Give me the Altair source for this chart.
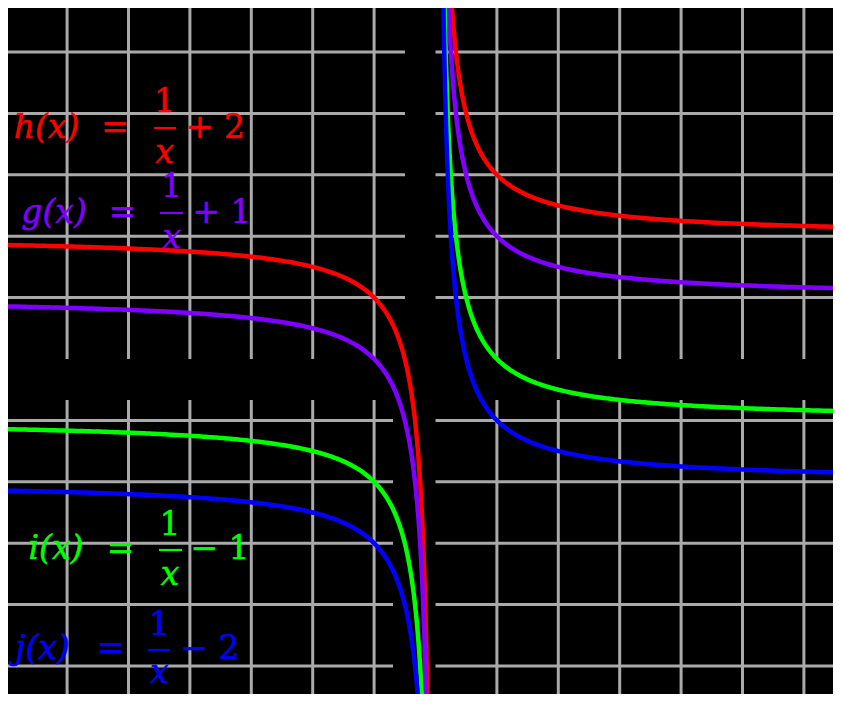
import altair as alt
import numpy as np
import pandas as pd

# ---- functions shown: f(x) = 1/x + c ----
fn_names = ["h", "g", "i", "j"]
offsets = [2, 1, -1, -2]
colors = ["#ff0000", "#8000ff", "#00ff00", "#0000ff"]

# ---- grid values (unit grid, axes at 0 hidden in black) ----
grid_x = [-7, -6, -5, -4, -3, -2, -1, 1, 2, 3, 4, 5, 6]
grid_y = [-5, -4, -3, -2, -1, 1, 2, 3, 4, 5]

# ---- label texts ----
lhs_text = ["h(x)", "g(x)", "i(x)", "j(x)"]
rhs_text = ["+ 2", "+ 1", "\u2212 1", "\u2212 2"]

# ---------------- layout (not data) ----------------
W, H = 825, 686
X_DOMAIN = [-6.9625, 6.474]
Y_DOMAIN = [-5.456, 5.7166]
GAP_BELOW_XAXIS = -0.668          # vertical grid lines resume below this
GAP_LEFT_UPPER = -0.497           # horizontal grid lines (y>0) stop here left of y-axis
GAP_LEFT_LOWER = -0.692           # horizontal grid lines (y<0) stop here
FONT = "DejaVu Serif"
FS = 33

# label anchor layout per function (data units)
label_layout = {
    "h": dict(lhs=-6.336, eq=-5.220, frac=-4.414, rhs=-3.583, base=3.599, num=4.023, den=3.192, bar=3.762, b1=-4.585, b2=-4.226),
    "g": dict(lhs=-6.213, eq=-5.098, frac=-4.296, rhs=-3.477, base=2.215, num=2.638, den=1.808, bar=2.378, b1=-4.487, b2=-4.112),
    "i": dict(lhs=-6.181, eq=-5.130, frac=-4.324, rhs=-3.510, base=-3.257, num=-2.866, den=-3.681, bar=-3.111, b1=-4.503, b2=-4.129),
    "j": dict(lhs=-6.401, eq=-5.293, frac=-4.500, rhs=-3.673, base=-4.886, num=-4.495, den=-5.277, bar=-4.739, b1=-4.682, b2=-4.324),
}

# ---------------- build tables ----------------
xr = np.geomspace(0.07, 8.0, 500)
branches = {"neg": -xr[::-1], "pos": xr}
curve_rows = []
for name, c in zip(fn_names, offsets):
    for br, xs in branches.items():
        for xv in xs:
            curve_rows.append({"x": float(xv), "c": c, "fn": name, "branch": f"{name}_{br}"})
curve_df = pd.DataFrame(curve_rows)

grid_rows = []
for gx in grid_x:
    grid_rows.append({"x1": gx, "x2": gx, "y1": 0.0, "y2": 8.0})
    grid_rows.append({"x1": gx, "x2": gx, "y1": GAP_BELOW_XAXIS, "y2": -8.0})
for gy in grid_y:
    gap = GAP_LEFT_UPPER if gy > 0 else GAP_LEFT_LOWER
    grid_rows.append({"x1": -8.0, "x2": gap, "y1": gy, "y2": gy})
    grid_rows.append({"x1": 0.0, "x2": 8.0, "y1": gy, "y2": gy})
grid_df = pd.DataFrame(grid_rows)

italic_rows, roman_rows, bar_rows = [], [], []
for name, lhs, rhs in zip(fn_names, lhs_text, rhs_text):
    L = label_layout[name]
    italic_rows.append({"t": lhs, "x": L["lhs"], "y": L["base"], "fn": name})
    italic_rows.append({"t": "x", "x": L["frac"], "y": L["den"], "fn": name})
    roman_rows.append({"t": "=", "x": L["eq"], "y": L["base"], "fn": name})
    roman_rows.append({"t": "1", "x": L["frac"], "y": L["num"], "fn": name})
    roman_rows.append({"t": rhs, "x": L["rhs"], "y": L["base"], "fn": name})
    bar_rows.append({"x1": L["b1"], "x2": L["b2"], "y": L["bar"], "fn": name})
italic_df = pd.DataFrame(italic_rows)
roman_df = pd.DataFrame(roman_rows)
bar_df = pd.DataFrame(bar_rows)

# ---------------- chart ----------------
xs = alt.Scale(domain=X_DOMAIN, nice=False, zero=False)
ys = alt.Scale(domain=Y_DOMAIN, nice=False, zero=False)
cs = alt.Scale(domain=fn_names, range=colors)

grid = alt.Chart(grid_df).mark_rule(color="#aaaaaa", strokeWidth=3, clip=True).encode(
    x=alt.X("x1:Q", scale=xs, axis=None),
    x2="x2:Q",
    y=alt.Y("y1:Q", scale=ys, axis=None),
    y2="y2:Q",
)

curves = alt.Chart(curve_df).transform_calculate(
    y="1 / datum.x + datum.c"
).mark_line(strokeWidth=4.5, clip=True).encode(
    x=alt.X("x:Q", scale=xs, axis=None),
    y=alt.Y("y:Q", scale=ys, axis=None),
    color=alt.Color("fn:N", scale=cs, legend=None),
    detail="branch:N",
    order="x:Q",
)

bars = alt.Chart(bar_df).mark_rule(strokeWidth=2.2).encode(
    x=alt.X("x1:Q", scale=xs, axis=None),
    x2="x2:Q",
    y=alt.Y("y:Q", scale=ys, axis=None),
    color=alt.Color("fn:N", scale=cs, legend=None),
)

italic = alt.Chart(italic_df).mark_text(
    font=FONT, fontSize=FS, fontStyle="italic", align="center", baseline="alphabetic",
    strokeWidth=0.5
).encode(
    x=alt.X("x:Q", scale=xs, axis=None),
    y=alt.Y("y:Q", scale=ys, axis=None),
    text="t:N",
    fill=alt.Fill("fn:N", scale=cs, legend=None),
    stroke=alt.Stroke("fn:N", scale=cs, legend=None),
)

roman = alt.Chart(roman_df).mark_text(
    font=FONT, fontSize=FS, align="center", baseline="alphabetic",
    strokeWidth=0.5
).encode(
    x=alt.X("x:Q", scale=xs, axis=None),
    y=alt.Y("y:Q", scale=ys, axis=None),
    text="t:N",
    fill=alt.Fill("fn:N", scale=cs, legend=None),
    stroke=alt.Stroke("fn:N", scale=cs, legend=None),
)

chart = alt.layer(grid, curves, bars, italic, roman).properties(
    width=W, height=H, padding=0, background="#000000"
).configure_view(strokeWidth=0)

chart.save("out.html", embed_options={"renderer": "svg", "actions": False})
